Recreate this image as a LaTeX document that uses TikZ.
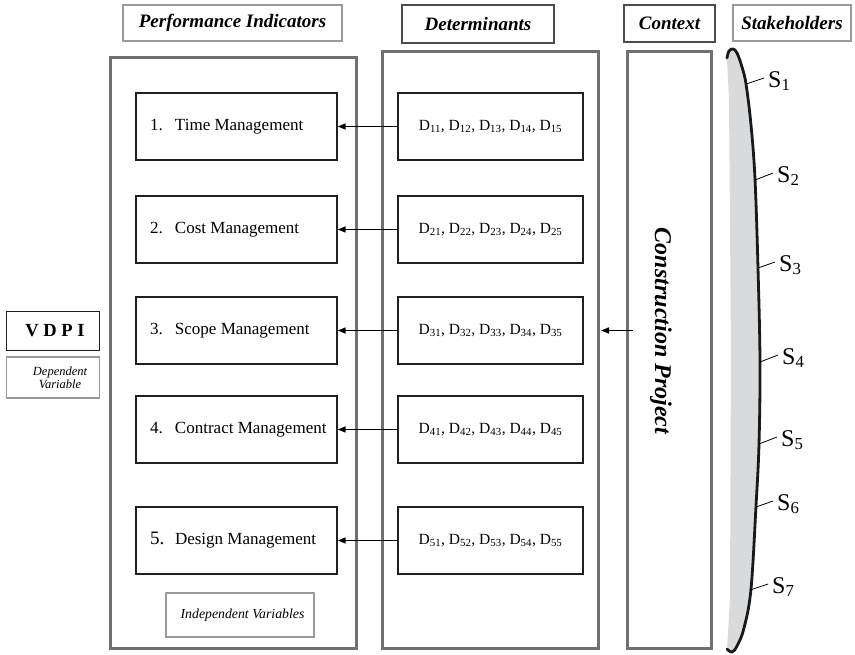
\documentclass[tikz,border=0pt]{standalone}
\usepackage{fontspec}
\setmainfont{Liberation Serif}
\usetikzlibrary{arrows.meta}

\definecolor{panelgray}{HTML}{707070}
\definecolor{hdrlight}{HTML}{9A9A9A}
\definecolor{hdrdark}{HTML}{4D4D4D}
\definecolor{boxline}{HTML}{202020}
\definecolor{stkfill}{HTML}{D9DADC}

\newcommand\hdrfont{\fontsize{19}{22}\selectfont\bfseries\itshape}
\newcommand\boxfont{\fontsize{17}{20}\selectfont}
\newcommand\dfont{\fontsize{15.5}{18}\selectfont}
\newcommand\ctxfont{\fontsize{24}{28}\selectfont\bfseries\itshape}
\newcommand\sfont{\fontsize{24}{28}\selectfont}
\newcommand\ivfont{\fontsize{13.8}{16}\selectfont\itshape}
\newcommand\dvfont{\fontsize{12.5}{15}\selectfont\itshape}
\newcommand\vdpifont{\fontsize{18.5}{22}\selectfont\bfseries}
% indicator entry: number column, then the name, kept on one line
\newcommand\entry[2]{\makebox[173pt][l]{\makebox[25pt][l]{#1}#2}}

\begin{document}
\begin{tikzpicture}[x=1pt,y=-1pt,
  panel/.style={draw=panelgray,line width=3pt,inner sep=0pt},
  hdrbox/.style={draw=#1,line width=1.3pt,inner sep=0pt,font=\hdrfont},
  ibox/.style={draw=boxline,line width=1.4pt,minimum width=201pt,minimum height=67pt,
    inner xsep=14pt,inner ysep=0pt,font=\boxfont},
  dbox/.style={draw=boxline,line width=1.4pt,minimum width=185pt,minimum height=67pt,
    inner sep=0pt,font=\dfont},
  link/.style={line width=1.5pt,-{Triangle[length=8pt,width=6pt]}},
  tick/.style={line width=0.8pt},
  slabel/.style={anchor=base west,inner sep=0pt,font=\sfont},
]
\useasboundingbox (0,0) rectangle (855,654);

% column headers
\node[hdrbox=hdrlight,minimum width=219pt,minimum height=36pt] (hPI) at (232.5,23) {Performance Indicators};
\node[hdrbox=hdrdark,minimum width=152pt,minimum height=38pt] (hDet) at (478,24) {Determinants};
\node[hdrbox=hdrdark,minimum width=91pt,minimum height=37pt] (hCtx) at (669.5,23.5) {Context};
\node[hdrbox=hdrlight,minimum width=118pt,minimum height=36pt] (hStk) at (792,23) {Stakeholders};

% column panels
\node[panel,minimum width=246pt,minimum height=591pt] (piPanel) at (233,352.5) {};
\node[panel,minimum width=216pt,minimum height=597pt] (detPanel) at (490,349.5) {};
\node[panel,minimum width=84pt,minimum height=597pt] (ctxPanel) at (669,349.5) {};
\node[rotate=-90,font=\ctxfont,inner sep=0pt] (ctxText) at (661,331) {Construction Project};

% performance indicators
\node[ibox] (p1) at (236.5,126.5) {\entry{1.}{Time Management}};
\node[ibox] (p2) at (236.5,229.5) {\entry{2.}{Cost Management}};
\node[ibox] (p3) at (236.5,330.5) {\entry{3.}{Scope Management}};
\node[ibox] (p4) at (236.5,429.5) {\entry{4.}{Contract Management}};
\node[ibox] (p5) at (236.5,540.5) {\entry{\fontsize{19}{20}\selectfont 5.}{Design Management}};

% determinants
\node[dbox] (d1) at (490.5,126.5) {D\textsubscript{11}, D\textsubscript{12}, D\textsubscript{13}, D\textsubscript{14}, D\textsubscript{15}};
\node[dbox] (d2) at (490.5,229.5) {D\textsubscript{21}, D\textsubscript{22}, D\textsubscript{23}, D\textsubscript{24}, D\textsubscript{25}};
\node[dbox] (d3) at (490.5,330.5) {D\textsubscript{31}, D\textsubscript{32}, D\textsubscript{33}, D\textsubscript{34}, D\textsubscript{35}};
\node[dbox] (d4) at (490.5,429.5) {D\textsubscript{41}, D\textsubscript{42}, D\textsubscript{43}, D\textsubscript{44}, D\textsubscript{45}};
\node[dbox] (d5) at (490.5,540.5) {D\textsubscript{51}, D\textsubscript{52}, D\textsubscript{53}, D\textsubscript{54}, D\textsubscript{55}};

\foreach \i in {1,...,5} {
  \draw[link] (d\i.west) -- (p\i.east);
}

% context feeding the determinants
\coordinate (cpFrom) at (633,330.5);
\coordinate (cpTo) at (601,330.5);
\draw[link] (cpFrom) -- (cpTo);

% independent variables tag
\node[draw=hdrlight,line width=1.3pt,minimum width=148pt,minimum height=44pt,inner sep=0pt,font=\ivfont] (iv) at (240,615) {\hspace*{5pt}Independent Variables};

% dependent variable
\node[draw=boxline,line width=1.3pt,minimum width=93pt,minimum height=39pt,inner sep=0pt,font=\vdpifont] (vdpi) at (53,331) {\hspace*{4pt}V D P I};
\node[draw=hdrlight,line width=1.3pt,minimum width=93pt,minimum height=41pt,inner sep=0pt] (dvBox) at (53,377.5) {};
\node[font=\dvfont,align=center,inner sep=0pt] (dvText) at (60,377.5) {Dependent\\[-2pt]Variable};

% stakeholders band
\fill[stkfill] plot[smooth,tension=0.6] coordinates {(727,58) (729,51) (733,49) (737,53) (742,67) (746,84) (751,125) (755,179) (758,268) (760,362) (759,444) (756,506) (751,589) (744,628) (737,646) (732,652) (727,649)} -- (730,600) -- (731,350) -- (729,100) -- cycle;
\draw[line width=2.8pt,black!90,line cap=round] plot[smooth,tension=0.6] coordinates {(727,58) (729,51) (733,49) (737,53) (742,67) (746,84) (751,125) (755,179) (758,268) (760,362) (759,444) (756,506) (751,589) (744,628) (737,646) (732,652) (727,649)};

\foreach \i/\cx/\cy/\ex/\ey in {1/746/84/764/78, 2/755/180/773/173, 3/758/268/775/262, 4/760/362/778/355, 5/759/444/777/437, 6/756/507/773/501, 7/750/590/768/584} {
  \coordinate (k\i) at (\cx,\cy);
  \coordinate (e\i) at (\ex,\ey);
  \node[slabel] (s\i) at (\ex+4,\ey+9) {S\textsubscript{\i}};
  \draw[tick] (k\i) -- (e\i);
}
\end{tikzpicture}
\end{document}
